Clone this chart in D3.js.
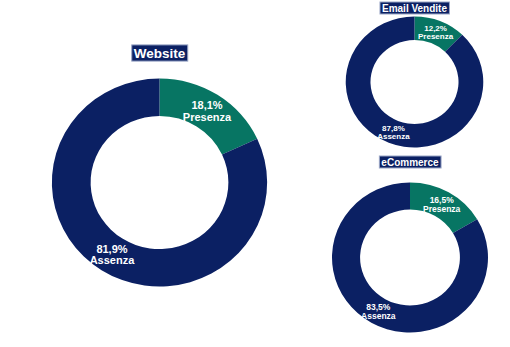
<!DOCTYPE html>
<html><head><meta charset="utf-8">
<script src="https://cdn.jsdelivr.net/npm/d3@7"></script>
<style>body{margin:0;background:#fff}svg{display:block}text{font-family:"Liberation Sans",Arial,sans-serif;font-weight:bold}</style>
</head><body><svg id="c" width="510" height="347"></svg>
<script>
const titles = ["Website", "Email Vendite", "eCommerce"];
const presenza = [18.1, 12.2, 16.5];
const assenza = [81.9, 87.8, 83.5];
const sliceNames = ["Presenza", "Assenza"];
const colors = ["#077563", "#0b2063"];

// layout (positions kept separately from data)
const layout = [
  {cx:159.5, cy:182.5, r:104, sx:1.035, titleY:53, titleSize:13.5, labelSize:11},
  {cx:414.5, cy:82, r:65.5, sx:1.05, titleY:8, titleSize:10, labelSize:8},
  {cx:410, cy:257.5, r:75, sx:1.04, titleY:162, titleSize:10, labelSize:8.5}
];
const fmt = v => d3.format(".1f")(v).replace(".", ",") + "%";
const svg = d3.select("#c");
const pie = d3.pie().sort(null).value(d => d.v);

titles.forEach((t, i) => {
  const L = layout[i];
  const data = [{name:sliceNames[0], v:presenza[i]}, {name:sliceNames[1], v:assenza[i]}];
  const arc = d3.arc().innerRadius(L.r*0.64).outerRadius(L.r);
  const g = svg.append("g").attr("transform", `translate(${L.cx},${L.cy}) scale(${L.sx},1)`);
  const arcs = pie(data);
  g.selectAll("path").data(arcs).join("path")
    .attr("d", arc).attr("fill", (d, j) => colors[j]);
  const lg = svg.append("g").attr("transform", `translate(${L.cx},${L.cy})`);
  arcs.forEach(a => {
    const [x, y] = arc.centroid(a);
    const tx = lg.append("text").attr("x", x*L.sx).attr("y", y)
      .attr("text-anchor", "middle").attr("fill", "#fff").attr("font-size", L.labelSize);
    tx.append("tspan").attr("x", x*L.sx).attr("dy", "-0.15em").text(fmt(a.data.v));
    tx.append("tspan").attr("x", x*L.sx).attr("dy", "1.05em").text(a.data.name);
  });
  // title box
  const tg = svg.append("g");
  const tt = tg.append("text").attr("x", L.cx).attr("y", L.titleY)
    .attr("text-anchor", "middle").attr("dominant-baseline", "central")
    .attr("fill", "#fff").attr("font-size", L.titleSize).text(t);
  const bb = tt.node().getBBox();
  tg.insert("rect", "text").attr("x", bb.x - 2).attr("y", L.titleY - L.titleSize*0.6)
    .attr("width", bb.width + 4).attr("height", L.titleSize*1.2)
    .attr("fill", "#0b2063").attr("stroke", "#9aa6c6").attr("stroke-width", 1);
});
</script></body></html>
